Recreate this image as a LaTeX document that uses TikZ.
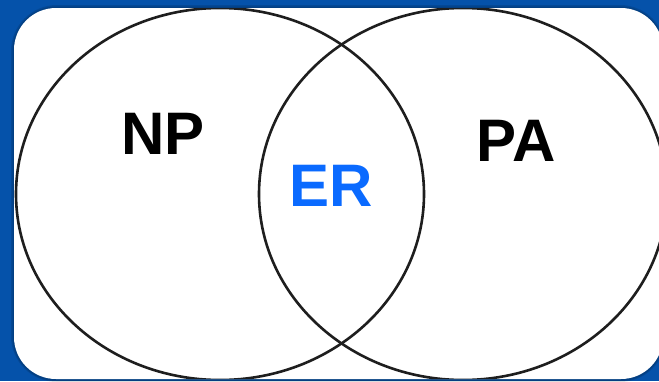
\documentclass[tikz,border=0pt]{standalone}
\usepackage{fontspec}
\usepackage{pdfrender}
\setmainfont{Liberation Sans}
\definecolor{bgblue}{HTML}{0552AA}
\definecolor{erblue}{HTML}{0A6AFF}
\definecolor{glow}{HTML}{C6DAEA}
\definecolor{ring}{HTML}{1E1E1E}
% bold label text, optionally outlined by a light stroke
\newcommand{\haloed}[1]{\textpdfrender{TextRenderingMode=FillStroke,
  LineWidth=3.2pt, LineJoin=1, StrokeColor=glow, FillColor=black}{#1}}
\tikzset{
  setlabel/.style={inner sep=0pt, font=\fontsize{60}{60}\selectfont\bfseries},
  setring/.style={draw=ring, line width=2.6pt},
}
\begin{document}
\begin{tikzpicture}[x=1pt,y=-1pt]
  % blue backdrop and fixed frame
  \fill[bgblue] (0,0) rectangle (659,381);
  \useasboundingbox (0,0) rectangle (659,381);
  % soft shadow round the card
  \fill[black, opacity=0.12, rounded corners=46pt] (11,5) rectangle (666,382);
  \fill[black, opacity=0.12, rounded corners=44pt] (12.5,6.5) rectangle (664.5,381);
  % white card
  \fill[white, rounded corners=42pt] (14,8) rectangle (663,379);
  % the two sets, clipped to the card
  \begin{scope}
    \clip[rounded corners=42pt] (14,8) rectangle (663,379);
    \draw[setring] (220,194) ellipse [x radius=204pt, y radius=186pt];
    \draw[setring] (463,194) ellipse [x radius=204pt, y radius=186pt];
  \end{scope}
  % set labels
  \node[setlabel] (np) at (163,134) {\haloed{NP}};
  \node[setlabel] (pa) at (516,141) {\haloed{PA}};
  \node[setlabel, text=erblue] (er) at (331,186) {ER};
\end{tikzpicture}
\end{document}
